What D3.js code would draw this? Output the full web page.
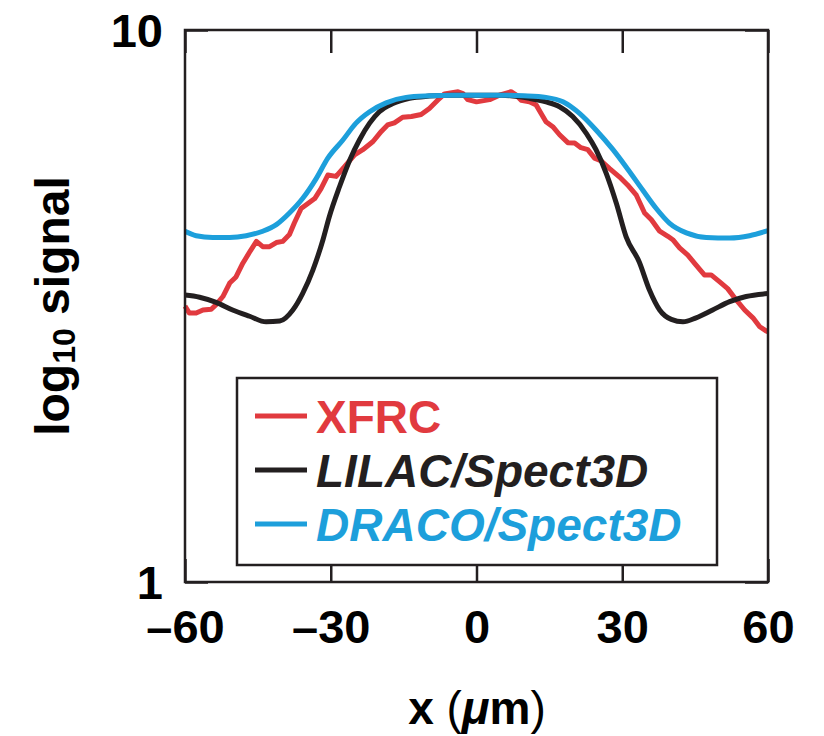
<!DOCTYPE html>
<html>
<head>
<meta charset="utf-8">
<script src="https://cdn.jsdelivr.net/npm/d3@7"></script>
<style>
  html, body { margin: 0; padding: 0; background: #fff; }
  svg { display: block; }
  text { font-family: "Liberation Sans", Arial, Helvetica, sans-serif; }
</style>
</head>
<body>
<svg id="chart" width="824" height="736"></svg>
<script>
// ---------------- data ----------------
const xTicks = [-60, -30, 0, 30, 60];
const xTickLabels = ["\u201360", "\u201330", "0", "30", "60"];
const yTicks = [1, 10];
const yTickLabels = ["1", "10"];

const seriesNames = ["XFRC", "LILAC/Spect3D", "DRACO/Spect3D"];
const seriesColors = ["#e13a3f", "#231f20", "#1d9fdb"];

const xfrcX = [-60, -59.1, -57.7, -56.3, -54.6, -53.6, -52.2, -50.8, -49.5, -48.1, -46.7, -45.3, -44.0, -42.6, -41.2, -39.9, -38.5, -37.5, -36.1, -34.7, -33.3, -32.0, -30.6, -28.9, -27.2, -25.1, -23.4, -21.3, -19.6, -18.3, -16.9, -15.2, -13.4, -11.4, -9.7, -8.0, -6.6, -3.8, -2.8, -1.8, 0, 2.7, 4.7, 7.1, 8.2, 9.2, 10.9, 12.3, 13.3, 14.3, 15.7, 17.1, 18.8, 20.2, 21.5, 22.9, 24.3, 25.7, 27.4, 29.4, 31.1, 32.9, 34.6, 36.0, 37.7, 39.4, 40.4, 41.8, 43.5, 45.2, 46.9, 48.3, 50.0, 51.7, 53.5, 55.2, 56.9, 58.3, 59.6, 60];
const xfrcY = [3.16, 3.07, 3.07, 3.11, 3.12, 3.18, 3.29, 3.48, 3.57, 3.78, 3.96, 4.14, 4.05, 4.05, 4.12, 4.14, 4.26, 4.47, 4.75, 4.85, 4.95, 5.16, 5.46, 5.43, 5.65, 5.94, 6.07, 6.28, 6.55, 6.73, 6.79, 6.95, 6.97, 7.03, 7.21, 7.46, 7.66, 7.73, 7.67, 7.48, 7.41, 7.48, 7.62, 7.73, 7.62, 7.46, 7.41, 7.31, 7.06, 6.82, 6.68, 6.46, 6.25, 6.24, 6.12, 6.07, 5.86, 5.79, 5.61, 5.42, 5.24, 5.02, 4.66, 4.53, 4.32, 4.23, 4.17, 4.03, 3.91, 3.75, 3.60, 3.60, 3.50, 3.40, 3.24, 3.11, 3.01, 2.90, 2.85, 2.84];

const lilacX = [-60, -57, -53.6, -50.2, -46.7, -43.3, -40.5, -37.8, -35.8, -33.7, -31.6, -30.3, -28.2, -26.1, -24.1, -22.0, -20.0, -17.2, -13.8, -9.7, -5, 0, 5, 10.9, 14.3, 17.1, 19.8, 22.6, 24.6, 26.7, 28.8, 30.8, 33.5, 35.6, 37.7, 40.1, 42.5, 45.2, 48.6, 52.1, 55.5, 60];
const lilacY = [3.31, 3.28, 3.21, 3.11, 3.03, 2.96, 2.97, 3.11, 3.33, 3.67, 4.17, 4.59, 5.20, 5.81, 6.32, 6.78, 7.11, 7.36, 7.52, 7.59, 7.62, 7.62, 7.62, 7.52, 7.41, 7.26, 6.97, 6.50, 6.07, 5.50, 4.85, 4.22, 3.80, 3.38, 3.11, 2.99, 2.96, 3.01, 3.11, 3.22, 3.29, 3.33];

const dracoX = [-60, -57.7, -54.3, -50.8, -47.4, -44.0, -41.2, -38.5, -35.8, -33.0, -30.6, -27.5, -24.8, -22.0, -18.6, -14.5, -9.7, -5, 0, 5, 9.7, 14.3, 17.8, 21.2, 24.6, 28.1, 31.1, 34.2, 37.0, 39.7, 43.2, 47.3, 52.1, 56.2, 60];
const dracoY = [4.32, 4.24, 4.21, 4.21, 4.24, 4.32, 4.44, 4.66, 4.95, 5.38, 5.86, 6.32, 6.78, 7.11, 7.38, 7.55, 7.60, 7.62, 7.62, 7.62, 7.60, 7.55, 7.41, 7.06, 6.59, 6.07, 5.60, 5.13, 4.75, 4.47, 4.29, 4.21, 4.20, 4.24, 4.33];

// ---------------- layout ----------------
const svg = d3.select("#chart");
const L = 185, R = 768, T = 30, B = 582;
const FONT = '"Liberation Sans", Arial, Helvetica, sans-serif';
const INK = "#231f20";

const x = d3.scaleLinear().domain([-60, 60]).range([L, R]);
const y = d3.scaleLog().domain([1, 10]).range([B, T]);

// data lines (drawn first, then frame on top)
const plotG = svg.append("g");
const series = [
  { x: xfrcX, y: xfrcY, curve: d3.curveLinear },
  { x: lilacX, y: lilacY, curve: d3.curveMonotoneX },
  { x: dracoX, y: dracoY, curve: d3.curveMonotoneX }
];
series.forEach((s, i) => {
  const pts = s.x.map((xv, j) => [xv, s.y[j]]);
  const line = d3.line().x(d => x(d[0])).y(d => y(d[1])).curve(s.curve);
  plotG.append("path")
    .attr("d", line(pts))
    .attr("fill", "none")
    .attr("stroke", seriesColors[i])
    .attr("stroke-width", 5)
    .attr("stroke-linejoin", "round")
    .attr("stroke-linecap", "butt");
});

// axes: inward ticks
const TICK = 23;
const axisStyle = g => {
  g.select(".domain").remove();
  g.selectAll(".tick line").attr("stroke", INK).attr("stroke-width", 2.5);
};

// bottom
svg.append("g").attr("transform", `translate(0,${B})`)
  .call(d3.axisBottom(x).tickValues(xTicks).tickSizeInner(-TICK).tickSizeOuter(0)
        .tickFormat((d, i) => xTickLabels[i]).tickPadding(28))
  .call(axisStyle)
  .call(g => g.selectAll(".tick text")
      .attr("fill", "#000").attr("font-family", FONT).attr("font-weight", "bold")
      .attr("font-size", 47).attr("dy", "0.71em"));

// top
svg.append("g").attr("transform", `translate(0,${T})`)
  .call(d3.axisTop(x).tickValues(xTicks).tickSizeInner(-TICK).tickSizeOuter(0).tickFormat(""))
  .call(axisStyle);

// left
svg.append("g").attr("transform", `translate(${L},0)`)
  .call(d3.axisLeft(y).tickValues(yTicks).tickSizeInner(-TICK).tickSizeOuter(0)
        .tickFormat((d, i) => yTickLabels[i]).tickPadding(22))
  .call(axisStyle)
  .call(g => g.selectAll(".tick text")
      .attr("fill", "#000").attr("font-family", FONT).attr("font-weight", "bold")
      .attr("font-size", 47).attr("dy", "0.35em"));

// right
svg.append("g").attr("transform", `translate(${R},0)`)
  .call(d3.axisRight(y).tickValues(yTicks).tickSizeInner(-TICK).tickSizeOuter(0).tickFormat(""))
  .call(axisStyle);

// frame
svg.append("rect")
  .attr("x", L).attr("y", T).attr("width", R - L).attr("height", B - T)
  .attr("fill", "none").attr("stroke", INK).attr("stroke-width", 2.5);

// legend
const lg = svg.append("g");
lg.append("rect")
  .attr("x", 237).attr("y", 378).attr("width", 480).attr("height", 187)
  .attr("fill", "#fff").attr("stroke", INK).attr("stroke-width", 2.5);
const legY = [416, 470, 524];
seriesNames.forEach((name, i) => {
  lg.append("line")
    .attr("x1", 255).attr("x2", 307).attr("y1", legY[i]).attr("y2", legY[i])
    .attr("stroke", seriesColors[i]).attr("stroke-width", 5);
  lg.append("text")
    .attr("x", 316).attr("y", legY[i] + 17)
    .attr("font-family", FONT).attr("font-weight", "bold")
    .attr("font-style", i === 0 ? "normal" : "italic")
    .attr("font-size", 46)
    .attr("fill", seriesColors[i])
    .text(name);
});

// x title
const xt = svg.append("text")
  .attr("x", 477).attr("y", 724)
  .attr("text-anchor", "middle")
  .attr("font-family", FONT).attr("font-size", 46).attr("font-weight", "bold")
  .attr("fill", "#000");
xt.append("tspan").text("x ");
xt.append("tspan").attr("font-weight", "normal").text("(");
xt.append("tspan").attr("font-style", "italic").text("\u03bc");
xt.append("tspan").text("m");
xt.append("tspan").attr("font-weight", "normal").text(")");

// y title
const yt = svg.append("text")
  .attr("transform", "translate(69,306) rotate(-90)")
  .attr("text-anchor", "middle")
  .attr("font-family", FONT).attr("font-size", 48).attr("font-weight", "bold")
  .attr("fill", "#000");
yt.append("tspan").text("log");
yt.append("tspan").attr("font-size", 32).attr("dy", 6).text("10");
yt.append("tspan").attr("dy", -6).text(" signal");
</script>
</body>
</html>
